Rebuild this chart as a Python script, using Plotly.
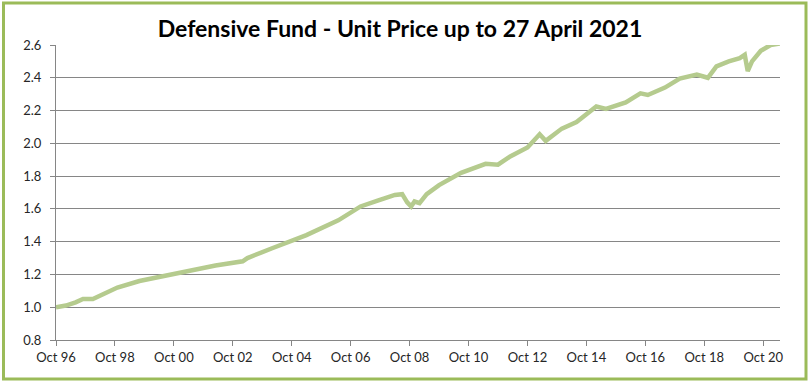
import plotly.graph_objects as go

dates = [
    "1996-10-01", "1997-02-01", "1997-06-01", "1997-09-01", "1998-01-01", "1998-05-01",
    "1998-11-01", "1999-08-01", "2000-07-01", "2001-05-01", "2002-03-01", "2003-02-01",
    "2003-04-01", "2004-02-01", "2005-04-01", "2006-05-01", "2007-02-01", "2007-09-01",
    "2008-04-01", "2008-07-01", "2008-09-01", "2008-10-20", "2008-12-01", "2009-02-01",
    "2009-05-01", "2009-10-01", "2010-07-01", "2011-05-01", "2011-10-01", "2012-03-01",
    "2012-10-01", "2013-03-01", "2013-05-15", "2013-12-01", "2014-06-01", "2015-02-01",
    "2015-06-01", "2016-02-01", "2016-08-01", "2016-11-01", "2017-06-01", "2017-12-01",
    "2018-07-01", "2018-11-15", "2019-03-01", "2019-08-01", "2019-12-15", "2020-02-15",
    "2020-03-23", "2020-05-15", "2020-09-01", "2021-01-01", "2021-04-27",
]
unit_price = [
    1.00, 1.01, 1.03, 1.05, 1.05, 1.08,
    1.12, 1.16, 1.195, 1.22, 1.255, 1.28,
    1.30, 1.36, 1.44, 1.53, 1.615, 1.65,
    1.685, 1.69, 1.64, 1.615, 1.645, 1.635,
    1.69, 1.745, 1.82, 1.875, 1.87, 1.92,
    1.975, 2.055, 2.015, 2.09, 2.13, 2.225,
    2.21, 2.25, 2.305, 2.295, 2.34, 2.395,
    2.42, 2.40, 2.47, 2.50, 2.52, 2.54,
    2.44, 2.50, 2.565, 2.60, 2.61,
]
tick_dates = ["1996-10-01", "1998-10-01", "2000-10-01", "2002-10-01", "2004-10-01",
              "2006-10-01", "2008-10-01", "2010-10-01", "2012-10-01", "2014-10-01",
              "2016-10-01", "2018-10-01", "2020-10-01"]
tick_labels = ["Oct 96", "Oct 98", "Oct 00", "Oct 02", "Oct 04", "Oct 06", "Oct 08",
               "Oct 10", "Oct 12", "Oct 14", "Oct 16", "Oct 18", "Oct 20"]
title_text = "Defensive Fund - Unit Price up to 27 April 2021"

W, H = 810, 384
ML, MR, MT, MB = 56, 30, 45, 44
pw, ph = W - ML - MR, H - MT - MB

fig = go.Figure()
fig.add_trace(go.Scatter(x=dates, y=unit_price, mode="lines",
                         line=dict(color="#B5CB8E", width=4.5), hoverinfo="x+y"))

axis_font = dict(family="Lato, Open Sans, sans-serif", size=13, color="#262626")
fig.update_layout(
    width=W, height=H,
    margin=dict(l=ML, r=MR, t=MT, b=MB),
    paper_bgcolor="white", plot_bgcolor="white",
    showlegend=False,
    title=dict(text="<b>" + title_text + "</b>", x=400 / W, xanchor="center",
               y=1 - 29 / H, yanchor="middle",
               font=dict(family="Lato, sans-serif", size=23, color="black")),
    xaxis=dict(type="date", range=["1996-10-01", "2021-04-27"],
               tickvals=tick_dates, ticktext=tick_labels,
               showgrid=False, showline=True, linecolor="#868686", linewidth=1,
               ticks="outside", ticklen=5, tickcolor="#868686",
               tickfont=axis_font, zeroline=False),
    yaxis=dict(range=[0.8, 2.6], tickvals=[0.8, 1.0, 1.2, 1.4, 1.6, 1.8, 2.0, 2.2, 2.4, 2.6],
               tickformat=".1f",
               showgrid=True, gridcolor="#868686", gridwidth=1,
               showline=True, linecolor="#868686", linewidth=1,
               ticks="outside", ticklen=5, tickcolor="#868686",
               ticklabelstandoff=6,
               tickfont=axis_font, zeroline=False),
)

# outer green chart border
bx0, bx1, by0, by1 = 3.5, 806, 3, 379
fig.add_shape(type="rect", xref="paper", yref="paper",
              x0=(bx0 - ML) / pw, x1=(bx1 - ML) / pw,
              y0=(H - MB - by1) / ph, y1=(H - MB - by0) / ph,
              line=dict(color="#9BBB59", width=3), fillcolor="rgba(0,0,0,0)", layer="below")

fig.write_html("out.html", config={"displayModeBar": False},
               post_script="document.body.style.margin='0';")
